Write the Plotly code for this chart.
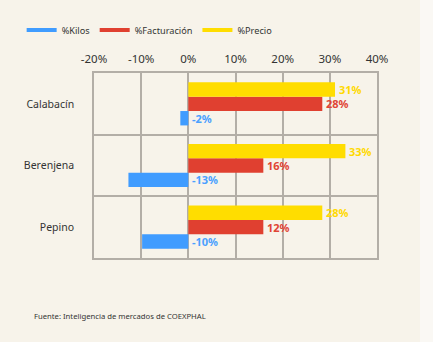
import plotly.graph_objects as go

categories = ["Calabacín", "Berenjena", "Pepino"]
kilos = [-1.7, -12.7, -9.8]
facturacion = [28.4, 15.9, 15.9]
precio = [31.1, 33.3, 28.4]
kilos_labels = ["-2%", "-13%", "-10%"]
fact_labels = ["28%", "16%", "12%"]
precio_labels = ["31%", "33%", "28%"]
x_ticks = [-20, -10, 0, 10, 20, 30, 40]
x_tick_labels = ["-20%", "-10%", "0%", "10%", "20%", "30%", "40%"]

BLUE = "#409cff"
RED = "#e04030"
YELLOW = "#ffdd00"
FONT = "Noto Sans"

W, H = 433, 342
ML, MR, MT, MB = 94, 56, 73, 84

series = [
    ("%Kilos", kilos, kilos_labels, BLUE, "#4aa0ff"),
    ("%Facturación", facturacion, fact_labels, RED, "#e04535"),
    ("%Precio", precio, precio_labels, YELLOW, "#ffd900"),
]

fig = go.Figure()
for name, vals, labs, col, tcol in series:
    fig.add_trace(go.Bar(
        y=categories, x=vals, orientation="h", name=name,
        marker=dict(color=col, line=dict(width=0)),
        showlegend=False, hoverinfo="skip",
    ))
for name, vals, labs, col, tcol in series:
    fig.add_trace(go.Scatter(
        x=[None], y=[None], mode="lines", name=name,
        line=dict(color=col, width=4),
    ))

# bar labels
plot_h = H - MT - MB
band = plot_h / len(categories)
bar_h = band * 0.7 / 3
offsets = {"%Kilos": -bar_h, "%Facturación": 0, "%Precio": bar_h}
for name, vals, labs, col, tcol in series:
    for c, v, t in zip(categories, vals, labs):
        fig.add_annotation(
            x=max(v, 0), y=c, text=f"<b>{t}</b>", showarrow=False,
            xanchor="left", yanchor="middle", xshift=2, yshift=offsets[name],
            font=dict(family=FONT, size=11, color=tcol),
        )

fig.add_annotation(
    xref="paper", yref="paper", x=(32 - ML) / (W - ML - MR), y=-(316 - (H - MB)) / plot_h,
    text="Fuente: Inteligencia de mercados de COEXPHAL", showarrow=False,
    xanchor="left", yanchor="middle", font=dict(family=FONT, size=7.7, color="#333333"),
)

# lighter strip at right edge
fig.add_shape(
    type="rect", xref="paper", yref="paper", layer="below",
    x0=(420 - ML) / (W - ML - MR), x1=1.5, y0=-1, y1=2,
    fillcolor="#faf8f4", line=dict(width=0),
)

GRID = "#b3aea7"
fig.update_layout(
    width=W, height=H,
    margin=dict(l=ML, r=MR, t=MT, b=MB),
    paper_bgcolor="#f7f3ea", plot_bgcolor="rgba(0,0,0,0)",
    barmode="group", bargap=0.3, bargroupgap=0,
    font=dict(family=FONT, color="#333333"),
    legend=dict(
        orientation="h", xref="container", yref="container",
        x=0.05, y=0.912, xanchor="left", yanchor="middle",
        font=dict(family=FONT, size=9.2, color="#333333"),
        bgcolor="rgba(0,0,0,0)", itemclick=False, traceorder="normal",
    ),
    xaxis=dict(
        side="top", range=[-20, 40], tickvals=x_ticks, ticktext=x_tick_labels,
        showgrid=True, gridcolor=GRID, gridwidth=1.5, zeroline=False,
        showline=True, linecolor=GRID, linewidth=1.5, mirror=True,
        ticks="", ticklabelstandoff=4, automargin=False,
        tickfont=dict(family=FONT, size=11.5, color="#333333"),
        fixedrange=True,
    ),
    yaxis=dict(
        type="category", categoryorder="array", categoryarray=categories[::-1],
        tickson="boundaries", showgrid=True, gridcolor=GRID, gridwidth=1.5,
        showline=True, linecolor=GRID, linewidth=1.5, mirror=True,
        ticks="", ticklabelstandoff=16, automargin=False,
        tickfont=dict(family=FONT, size=10.5, color="#333333"), fixedrange=True,
    ),
)

fig.write_html("out.html")
